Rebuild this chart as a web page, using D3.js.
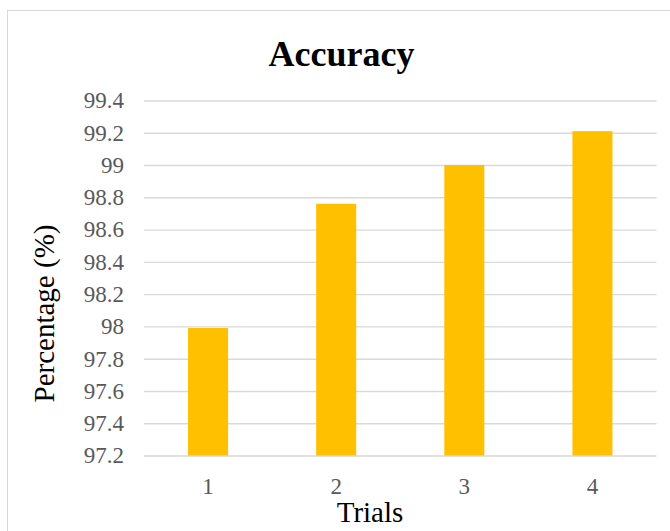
<!DOCTYPE html>
<html>
<head>
<meta charset="utf-8">
<script src="https://cdn.jsdelivr.net/npm/d3@7"></script>
<style>
  html, body { margin: 0; padding: 0; background: #fff; }
  svg { display: block; }
  svg text { font-family: 'Liberation Serif', 'Times New Roman', serif; }
</style>
</head>
<body>
<svg id="chart" width="670" height="531"></svg>
<script>
// Accuracy per trial
const trials = ["1", "2", "3", "4"];
const accuracy = [97.99, 98.76, 99.0, 99.21];
const yTicks = [97.2, 97.4, 97.6, 97.8, 98, 98.2, 98.4, 98.6, 98.8, 99, 99.2, 99.4];

const svg = d3.select("#chart");
const W = 670, H = 531;
const plot = { left: 144, right: 656.5, top: 100.5, bottom: 455.5 };
const serif = "Liberation Serif, Times New Roman, serif";

// chart area frame
svg.append("rect")
  .attr("x", 7.5).attr("y", 10.5)
  .attr("width", W + 20).attr("height", H + 20)
  .attr("fill", "#fff")
  .attr("stroke", "#d9d9d9").attr("stroke-width", 1);

const x = d3.scaleBand()
  .domain(trials)
  .range([plot.left, plot.right])
  .paddingInner(0.6875)
  .paddingOuter(0.34375);

const y = d3.scaleLinear()
  .domain([97.2, 99.4])
  .range([plot.bottom, plot.top]);

// gridlines + y tick labels
const yAxis = d3.axisLeft(y)
  .tickValues(yTicks)
  .tickSize(-(plot.right - plot.left))
  .tickPadding(20)
  .tickFormat(d3.format("~g"));

const gy = svg.append("g")
  .attr("transform", `translate(${plot.left},0)`)
  .call(yAxis)
  .attr("font-family", serif)
  .attr("font-size", 23);
gy.select(".domain").remove();
gy.selectAll(".tick line")
  .attr("stroke", "#d9d9d9").attr("stroke-width", 1.4);
gy.selectAll(".tick text").attr("fill", "#595959");

// bars
svg.append("g")
  .selectAll("rect")
  .data(accuracy)
  .join("rect")
  .attr("x", (d, i) => x(trials[i]))
  .attr("width", x.bandwidth())
  .attr("y", d => y(d))
  .attr("height", d => y(97.2) - y(d))
  .attr("fill", "#FFC000");

// x tick labels
const xAxis = d3.axisBottom(x).tickSize(0).tickPadding(22);
const gx = svg.append("g")
  .attr("transform", `translate(0,${plot.bottom})`)
  .call(xAxis)
  .attr("font-family", serif)
  .attr("font-size", 23);
gx.select(".domain").remove();
gx.selectAll(".tick text").attr("fill", "#595959");

// title
svg.append("text")
  .attr("x", 341.5).attr("y", 66)
  .attr("text-anchor", "middle")
  .attr("font-family", serif)
  .attr("font-size", 36)
  .attr("font-weight", "bold")
  .attr("fill", "#000")
  .text("Accuracy");

// axis titles
svg.append("text")
  .attr("x", 370).attr("y", 522)
  .attr("text-anchor", "middle")
  .attr("font-family", serif)
  .attr("font-size", 29)
  .attr("fill", "#000")
  .text("Trials");

svg.append("text")
  .attr("transform", "translate(54,313.5) rotate(-90)")
  .attr("text-anchor", "middle")
  .attr("font-family", serif)
  .attr("font-size", 29)
  .attr("fill", "#000")
  .text("Percentage (%)");
</script>
</body>
</html>
